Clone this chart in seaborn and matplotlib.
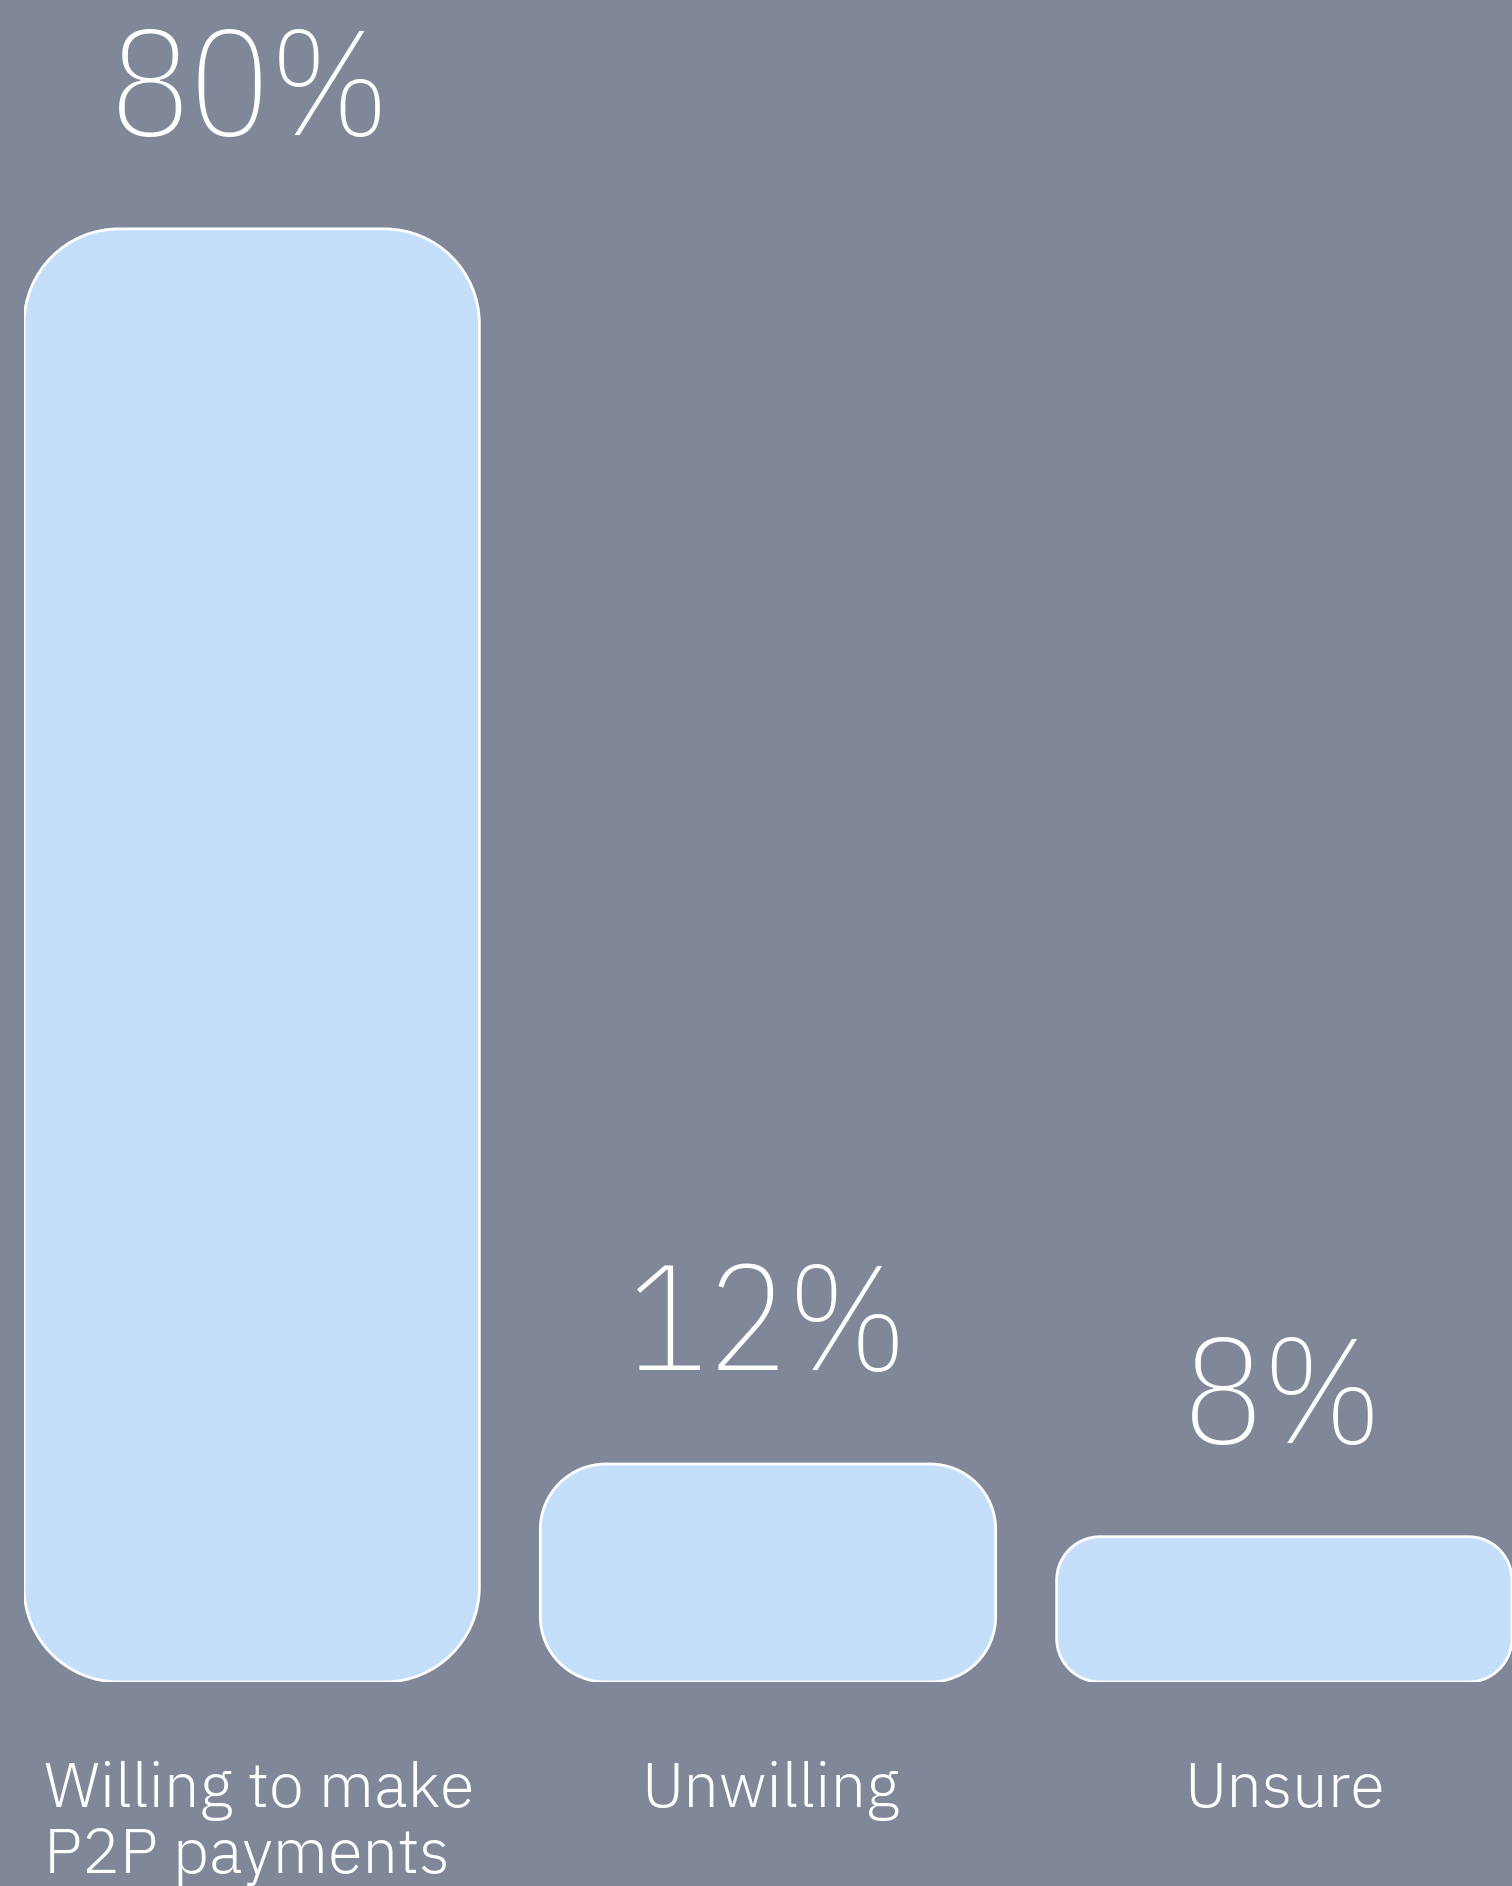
import matplotlib
matplotlib.use("Agg")
import matplotlib.pyplot as plt
from matplotlib.path import Path
from matplotlib.patches import PathPatch
import seaborn as sns
import pandas as pd

categories = ["Willing to make\nP2P payments", "Unwilling", "Unsure"]
values = [80, 12, 8]
value_labels = ["80%", "12%", "8%"]

BG = "#7f8799"
BAR = "#c5dffb"
FONT = ["IBM Plex Sans Hebrew", "IBM Plex Sans", "DejaVu Sans"]
NUM_FONT = ["IBM Plex Sans Condensed", "IBM Plex Sans", "DejaVu Sans"]

sns.set_theme(style="white")
plt.rcParams["font.family"] = FONT

W, H, DPI = 15.12, 18.86, 100
fig = plt.figure(figsize=(W, H), dpi=DPI, facecolor=BG)
ax_left, ax_bottom = 24 / 1512, 204 / 1886
ax = fig.add_axes([ax_left, ax_bottom, 1 - ax_left, 1 - ax_bottom])
ax.set_facecolor(BG)

df = pd.DataFrame({"category": categories, "value": values})
sns.barplot(data=df, x="category", y="value", color=BAR, width=0.882,
            saturation=1, ax=ax)

ax.set_xlim(-0.441, 2.441)
ax.set_ylim(0, 92.6)
for s in ax.spines.values():
    s.set_visible(False)
ax.set_xticks([])
ax.set_yticks([])
ax.set_xlabel("")
ax.set_ylabel("")

# pixels per data unit in each direction
ax_w_px = (1 - ax_left) * W * DPI
ax_h_px = (1 - ax_bottom) * H * DPI
px_x = ax_w_px / (ax.get_xlim()[1] - ax.get_xlim()[0])
px_y = ax_h_px / (ax.get_ylim()[1] - ax.get_ylim()[0])


def rounded_rect(x0, y0, w, h, rx, ry):
    """Rectangle path with circular (in pixels) corners."""
    k = 0.5523
    x1, y1 = x0 + w, y0 + h
    verts = [
        (x0 + rx, y0), (x1 - rx, y0),
        (x1 - rx + k * rx, y0), (x1, y0 + ry - k * ry), (x1, y0 + ry),
        (x1, y1 - ry),
        (x1, y1 - ry + k * ry), (x1 - rx + k * rx, y1), (x1 - rx, y1),
        (x0 + rx, y1),
        (x0 + rx - k * rx, y1), (x0, y1 - ry + k * ry), (x0, y1 - ry),
        (x0, y0 + ry),
        (x0, y0 + ry - k * ry), (x0 + rx - k * rx, y0), (x0 + rx, y0),
        (x0 + rx, y0),
    ]
    codes = ([Path.MOVETO, Path.LINETO] + [Path.CURVE4] * 3 + [Path.LINETO]
             + [Path.CURVE4] * 3 + [Path.LINETO] + [Path.CURVE4] * 3
             + [Path.LINETO] + [Path.CURVE4] * 3 + [Path.CLOSEPOLY])
    return Path(verts, codes)


# swap the square bars for rounded ones with a white outline
bars = list(ax.patches)
for p in bars:
    x0, y0 = p.get_x(), p.get_y()
    w, h = p.get_width(), p.get_height()
    r_px = min(95, 0.3 * h * px_y)
    path = rounded_rect(x0, y0, w, h, r_px / px_x, r_px / px_y)
    ax.add_patch(PathPatch(path, facecolor=BAR, edgecolor="white",
                           linewidth=2, zorder=3))
    p.set_visible(False)

for i, (v, lab) in enumerate(zip(values, value_labels)):
    ax.annotate(lab, xy=(i, v), xytext=(-1, 67.5), textcoords="offset points",
                ha="center", va="baseline", fontsize=107, color="white",
                fontweight=200, family=NUM_FONT)

label_dx = [5, 2, 0]
for i, cat in enumerate(categories):
    ax.annotate(cat, xy=(i, 0), xycoords=("data", "axes fraction"),
                xytext=(label_dx[i], -57), textcoords="offset points",
                ha="center", va="top", multialignment="left",
                fontsize=45.5, color="white", fontweight=300,
                linespacing=1.12, family=FONT, annotation_clip=False)

fig.savefig("out.png", dpi=DPI, facecolor=BG)
